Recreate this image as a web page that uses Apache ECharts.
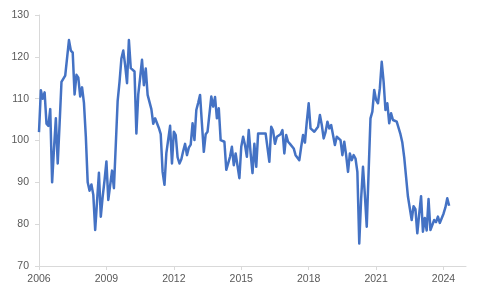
<!DOCTYPE html>
<html>
<head>
<meta charset="utf-8">
<script src="https://cdn.jsdelivr.net/npm/echarts@6/dist/echarts.min.js"></script>
<style>
html,body{margin:0;padding:0;background:#fff;}
#chart{width:480px;height:297px;}
</style>
</head>
<body>
<div id="chart"></div>
<script>
// Monthly values, January 2006 onward
const v2006 = [102, 112, 110, 111.5, 104, 103.5, 107.5, 90, 98, 105.3, 94.5, 104];
const v2007 = [114, 114, 115.5, 115.5, 124, 121.5, 121, 111, 115.7, 115, 110.5, 112.7];
const v2008 = [109, 101, 90, 88, 89.5, 87, 78.6, 85.5, 92.3, 81.8, 86.6, 90.5];
const v2009 = [95, 85.8, 85.4, 92.8, 88.6, 99, 109.5, 114, 119.6, 121.5, 118, 113.7];
const v2010 = [124, 117.3, 117.3, 116.5, 101.7, 111, 115, 119.3, 113.2, 117.2, 110.9, 110.9];
const v2011 = [107.5, 104, 105.3, 105.3, 103, 101.5, 92.5, 89.4, 97, 97.4, 103.5, 94.5];
const v2012 = [102.1, 101.3, 96, 94.5, 95.5, 97.5, 99.2, 96.5, 98.3, 99, 104.1, 100.1];
const v2013 = [107.3, 109, 110.9, 104, 97.3, 101.5, 102.1, 102.1, 110.5, 108.1, 110.4, 105.3];
const v2014 = [107.7, 100.1, 99.7, 99.7, 93, 93.4, 96.1, 98.5, 94.1, 96.9, 96.9, 91];
const v2015 = [98.5, 100.9, 98.9, 96.1, 102.5, 96.9, 92.2, 99.2, 93.7, 101.7, 101.5, 101.7];
const v2016 = [101.7, 101.7, 101.5, 94.9, 103.3, 102.3, 99.2, 100.9, 100.9, 101.5, 102.5, 96.9];
const v2017 = [101.3, 99.7, 99.2, 99, 98.1, 96.5, 96.5, 95.3, 98.5, 101.3, 99.5, 104.5];
const v2018 = [108.9, 102.9, 102.9, 102.1, 101.7, 103.3, 106.1, 103.7, 100.5, 102, 104.5, 102.9];
const v2019 = [103.7, 101.3, 98.9, 100.9, 101.3, 100.1, 96.5, 99.7, 96.5, 92.5, 96.9, 95.3];
const v2020 = [96.5, 95.7, 92.5, 75.4, 86, 93.7, 87, 79.4, 92.5, 105.3, 106.9, 112.1];
const v2021 = [109.7, 108.9, 112.5, 118.8, 114.1, 107.3, 108.9, 104.1, 106.5, 104.9, 105.3, 104.5];
const v2022 = [104.1, 101.5, 99.5, 96, 91.3, 86.6, 83.8, 81, 84.3, 83.6, 77.8, 82.4];
const v2023 = [86.7, 78.2, 81.5, 78.5, 86, 78.6, 79, 81, 80.5, 81.8, 80.3, 80.5];
const v2024 = [82.5, 84, 86.2, 84.4];

const startYear = 2006;
const xTickYears = [2006, 2009, 2012, 2015, 2018, 2021, 2024];
const yTicks = [70, 80, 90, 100, 110, 120, 130];

const allValues = [].concat(v2006, v2007, v2008, v2009, v2010, v2011, v2012, v2013,
  v2014, v2015, v2016, v2017, v2018, v2019, v2020, v2021, v2022, v2023, v2024);
const seriesData = allValues.map((v, i) => [startYear + i / 12, v]);

const chart = echarts.init(document.getElementById('chart'), null, {renderer: 'canvas'});
const labelStyle = {color: '#595959', fontSize: 10.5, fontFamily: 'Liberation Sans, Arial, sans-serif'};
chart.setOption({
  animation: false,
  grid: {left: 39, right: 14, top: 15, bottom: 31, containLabel: false},
  xAxis: {
    type: 'value',
    min: 2006,
    max: 2025,
    splitLine: {show: false},
    axisLine: {show: true, lineStyle: {color: '#d9d9d9', width: 1}},
    axisTick: {show: true, length: 4, lineStyle: {color: '#d9d9d9'}, customValues: xTickYears},
    axisLabel: Object.assign({margin: 8, customValues: xTickYears, formatter: v => String(Math.round(v))}, labelStyle)
  },
  yAxis: {
    type: 'value',
    min: yTicks[0],
    max: yTicks[yTicks.length - 1],
    interval: 10,
    splitLine: {show: false},
    axisLine: {show: true, lineStyle: {color: '#d9d9d9', width: 1}},
    axisTick: {show: true, length: 4, lineStyle: {color: '#d9d9d9'}},
    axisLabel: Object.assign({margin: 10}, labelStyle)
  },
  series: [{
    type: 'line',
    data: seriesData,
    showSymbol: false,
    symbol: 'none',
    lineStyle: {color: '#4472C4', width: 2.5, join: 'round'},
    itemStyle: {color: '#4472C4'}
  }]
});
</script>
</body>
</html>
